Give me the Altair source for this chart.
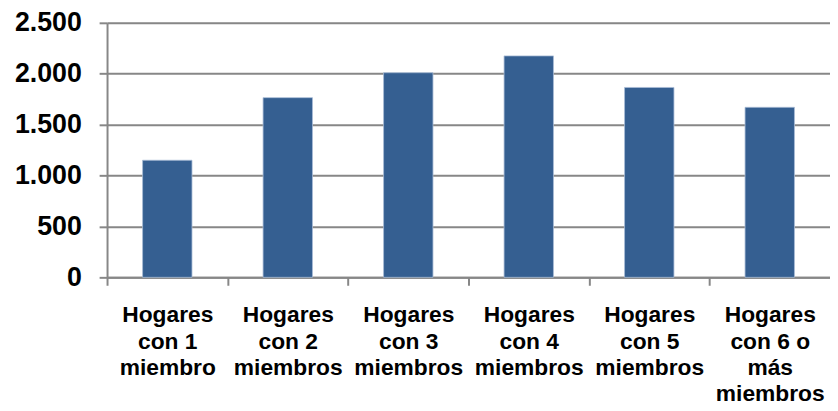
import altair as alt
import pandas as pd

categories = [
    "Hogares\ncon 1\nmiembro",
    "Hogares\ncon 2\nmiembros",
    "Hogares\ncon 3\nmiembros",
    "Hogares\ncon 4\nmiembros",
    "Hogares\ncon 5\nmiembros",
    "Hogares\ncon 6 o\nmás\nmiembros",
]
values = [1150, 1765, 2010, 2175, 1865, 1670]
y_ticks = [0, 500, 1000, 1500, 2000, 2500]

df = pd.DataFrame({"cat": categories, "val": values})

W = 730
H = 257
step = W / len(categories)
GRID = "#878787"

chart = (
    alt.Chart(df)
    .mark_bar(
        color="#355F91",
        stroke="#A9BCD6",
        strokeWidth=0.8,
        width=alt.RelativeBandSize(0.41),
    )
    .encode(
        x=alt.X(
            "cat:N",
            sort=categories,
            scale=alt.Scale(paddingInner=0, paddingOuter=0),
            axis=alt.Axis(
                title=None,
                labelAngle=0,
                labelAlign="center",
                labelBaseline="top",
                labelExpr="split(datum.label, '\\n')",
                labelFont="Liberation Sans",
                labelFontWeight="bold",
                labelFontSize=23,
                labelLineHeight=26.5,
                labelColor="#000000",
                labelPadding=19,
                labelOffset=step / 2,
                tickOffset=-step / 2,
                tickSize=8,
                tickColor=GRID,
                tickWidth=2,
                domainColor=GRID,
                domainWidth=2,
                grid=False,
            ),
        ),
        y=alt.Y(
            "val:Q",
            scale=alt.Scale(domain=[0, 2500], nice=False),
            axis=alt.Axis(
                title=None,
                values=y_ticks,
                labelExpr="replace(format(datum.value, ','), ',', '.')",
                labelFont="Liberation Sans",
                labelFontWeight="bold",
                labelFontSize=27,
                labelColor="#000000",
                labelPadding=18,
                tickSize=8,
                tickColor=GRID,
                tickWidth=2,
                domainColor=GRID,
                domainWidth=2,
                grid=True,
                gridColor=GRID,
                gridWidth=2,
            ),
        ),
    )
    .properties(
        width=W,
        height=H,
        autosize=alt.AutoSizeParams(type="none"),
        padding={"left": 100, "top": 13, "right": 0, "bottom": 133},
    )
    .configure_view(stroke=None)
    .configure(background="white")
)

chart.save("out.html", embed_options={"renderer": "svg", "actions": False})
